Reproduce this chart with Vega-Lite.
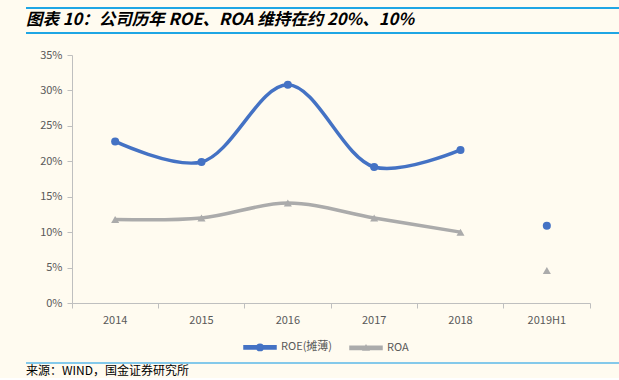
{
  "$schema": "https://vega.github.io/schema/vega-lite/v6.json",
  "background": "#FFFBF0",
  "padding": {"left": 25, "top": 7, "right": 0, "bottom": 0},
  "autosize": {"type": "pad"},
  "config": {"font": "Noto Sans CJK SC", "view": {"stroke": null}},
  "datasets": {
    "one": [{"k": 1}],
    "main": [
      {"year": "2014", "series": "ROE(摊薄)", "value": 0.228},
      {"year": "2015", "series": "ROE(摊薄)", "value": 0.199},
      {"year": "2016", "series": "ROE(摊薄)", "value": 0.308},
      {"year": "2017", "series": "ROE(摊薄)", "value": 0.192},
      {"year": "2018", "series": "ROE(摊薄)", "value": 0.216},
      {"year": "2019H1", "series": "ROE(摊薄)", "value": 0.109},
      {"year": "2014", "series": "ROA", "value": 0.118},
      {"year": "2015", "series": "ROA", "value": 0.120},
      {"year": "2016", "series": "ROA", "value": 0.141},
      {"year": "2017", "series": "ROA", "value": 0.120},
      {"year": "2018", "series": "ROA", "value": 0.100},
      {"year": "2019H1", "series": "ROA", "value": 0.046}
    ]
  },
  "resolve": {"legend": {"color": "independent"}, "scale": {"color": "independent"}},
  "vconcat": [
    {
      "width": 594,
      "height": 25,
      "data": {"name": "one"},
      "mark": {"type": "point", "opacity": 0},
      "view": {"stroke": "#1FA6E4", "strokeWidth": 2, "strokeDash": [594, 25, 594, 25], "fill": null},
      "title": {
        "text": "图表 10：公司历年 ROE、ROA 维持在约 20%、10%",
        "anchor": "start",
        "orient": "top",
        "offset": -20,
        "fontSize": 16.5,
        "fontWeight": "bold",
        "fontStyle": "italic",
        "font": "Noto Sans CJK SC",
        "color": "#000000"
      }
    },
    {
      "hconcat": [
        {
          "width": 46,
          "height": 248,
          "data": {"name": "one"},
          "mark": {"type": "point", "opacity": 0}
        },
        {
          "width": 518,
          "height": 248,
          "data": {"name": "main"},
          "title": {"text": "-", "fontSize": 10, "offset": 3, "color": "transparent"},
          "encoding": {
            "x": {
              "field": "year",
              "type": "nominal",
              "sort": null,
              "scale": {"type": "band", "paddingInner": 0, "paddingOuter": 0},
              "axis": {
                "title": null,
                "labelAngle": 0,
                "bandPosition": 1,
                "tickExtra": true,
                "grid": false,
                "domainColor": "#BFBFBF",
                "tickColor": "#BFBFBF",
                "tickSize": 5,
                "labelColor": "#595959",
                "labelFontSize": 11,
                "labelPadding": 6
              }
            },
            "y": {
              "field": "value",
              "type": "quantitative",
              "scale": {"domain": [0, 0.35]},
              "axis": {
                "title": null,
                "values": [0, 0.05, 0.1, 0.15, 0.2, 0.25, 0.3, 0.35],
                "format": "%",
                "grid": false,
                "domainColor": "#BFBFBF",
                "tickColor": "#BFBFBF",
                "tickSize": 5,
                "labelColor": "#595959",
                "labelFontSize": 11,
                "labelPadding": 5
              }
            },
            "color": {
              "field": "series",
              "type": "nominal",
              "scale": {"domain": ["ROE(摊薄)", "ROA"], "range": ["#4472C4", "#ABABAB"]},
              "legend": {
                "orient": "none",
                "legendX": 171,
                "legendY": 275,
                "direction": "horizontal",
                "title": null,
                "labelFontSize": 11,
                "labelColor": "#595959",
                "labelOffset": 4,
                "columnPadding": 14,
                "symbolSize": 1024,
                "encode": {
                  "symbols": {
                    "update": {
                      "shape": {"signal": "datum.value === 'ROA' ? 'M-1,-0.1H1V0.1H-1Z M-0.17,0.14L0,-0.15L0.17,0.14Z' : 'M-1,-0.1H1V0.1H-1Z M-0.2,0A0.2,0.2 0 1,1 0.2,0A0.2,0.2 0 1,1 -0.2,0Z'"},
                      "fill": {"signal": "datum.value === 'ROA' ? '#ABABAB' : '#4472C4'"},
                      "stroke": {"value": "transparent"},
                      "opacity": {"value": 1}
                    }
                  }
                }
              }
            }
          },
          "layer": [
            {
              "transform": [{"filter": "datum.year != '2019H1'"}],
              "mark": {"type": "line", "interpolate": "catmull-rom", "strokeWidth": 3.5}
            },
            {
              "mark": {"type": "point", "filled": true, "opacity": 1, "size": 65},
              "encoding": {
                "shape": {
                  "condition": {"test": "datum.series === 'ROA'", "value": "triangle-up"},
                  "value": "circle"
                }
              }
            }
          ]
        }
      ],
      "spacing": 0,
      "bounds": "flush",
      "resolve": {"legend": {"color": "independent"}, "scale": {"color": "independent"}}
    },
    {
      "width": 594,
      "height": 6,
      "data": {"name": "one"},
      "mark": {"type": "point", "opacity": 0},
      "view": {"stroke": "#5BB8E8", "strokeWidth": 1.5, "strokeDash": [0, 600, 594, 2000], "fill": null},
      "title": {
        "text": "来源：WIND，国金证券研究所",
        "orient": "bottom",
        "anchor": "start",
        "offset": 3,
        "fontSize": 12,
        "fontWeight": "normal",
        "font": "Noto Sans CJK SC",
        "color": "#000000"
      }
    }
  ],
  "spacing": 2
}
